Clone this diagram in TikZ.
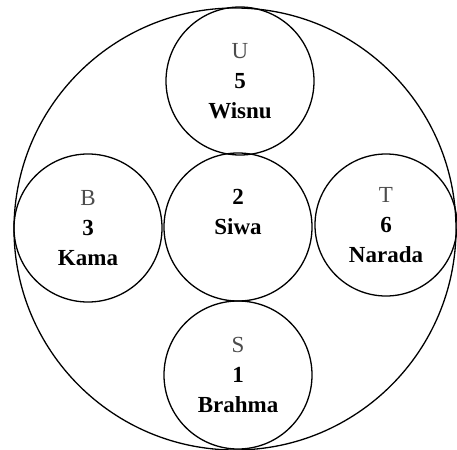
\documentclass[tikz,border=0pt]{standalone}
\usepackage{fontspec}
\setmainfont{Liberation Serif}
\begin{document}
\begin{tikzpicture}[x=1pt, y=-1pt, line width=1.3pt,
		ring/.style={circle, draw, minimum size=148pt, inner sep=0pt, align=center,
			font=\fontsize{23}{30}\selectfont},
		dir/.style={text=black!70}]
		\useasboundingbox (0,0) rectangle (457,449);
		\node[circle, draw, minimum size=442pt, inner sep=0pt] (world) at (235,229) {};
		\node[ring] (5) at (240,81) {{\color{black!70}U}\\\textbf{5}\\\textbf{Wisnu}};
		\node[ring] (2) at (238,227) {\textbf{2}\\\textbf{Siwa}\\\mbox{}};
		\node[ring] (3) at (88,228) {{\color{black!70}B}\\\textbf{3}\\\textbf{Kama}};
		\node[ring, minimum size=142pt] (6) at (386,225) {{\color{black!70}T}\\\textbf{6}\\\textbf{Narada}};
		\node[ring] (1) at (238,375) {{\color{black!70}S}\\\textbf{1}\\\textbf{Brahma}};
	\end{tikzpicture}
\end{document}
